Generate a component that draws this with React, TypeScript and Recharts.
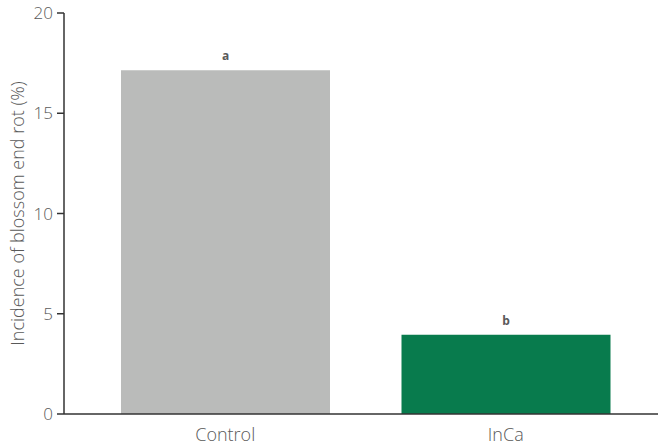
import React from 'react';
import { BarChart, Bar, XAxis, YAxis, Cell, LabelList } from 'recharts';

const treatments = ['Control', 'InCa'];
const incidence = [17.15, 3.95];
const letters = ['a', 'b'];
const barColors = ['#BABBBA', '#087B4D'];
const yTicks = [0, 5, 10, 15, 20];

const data = treatments.map((name, i) => ({ name, value: incidence[i], letter: letters[i] }));

const font = "'Open Sans', sans-serif";

export default function App() {
  return (
    <div style={{ position: 'absolute', left: 0, top: 0, width: 658, height: 448, background: '#fff' }}>
      <BarChart width={658} height={448} data={data} margin={{ top: 13, right: 0, bottom: 0, left: 0 }}>
        <XAxis
          dataKey="name"
          height={34}
          padding={{ left: 21, right: 12 }}
          tickLine={false}
          axisLine={{ stroke: '#333', strokeWidth: 1.5 }}
          tick={{ fill: '#595959', fontSize: 18, fontFamily: font, fontWeight: 300 }}
          tickMargin={8}
        />
        <YAxis
          width={64}
          domain={[0, 20]}
          ticks={yTicks}
          tickSize={7}
          tickMargin={4}
          axisLine={{ stroke: '#333', strokeWidth: 1.5 }}
          tickLine={{ stroke: '#333', strokeWidth: 1.5 }}
          tick={{ fill: '#595959', fontSize: 17, fontFamily: font, fontWeight: 300 }}
          label={{
            value: 'Incidence of blossom end rot (%)',
            angle: -90,
            position: 'insideLeft',
            dx: 13,
            style: { textAnchor: 'middle', fill: '#595959', fontSize: 18, fontFamily: font, fontWeight: 300 },
          }}
        />
        <Bar dataKey="value" barSize={209} isAnimationActive={false}>
          {data.map((d, i) => (
            <Cell key={d.name} fill={barColors[i]} />
          ))}
          <LabelList
            dataKey="letter"
            position="top"
            offset={10}
            style={{ fill: '#595959', fontSize: 12, fontWeight: 700, fontFamily: font }}
          />
        </Bar>
      </BarChart>
    </div>
  );
}
